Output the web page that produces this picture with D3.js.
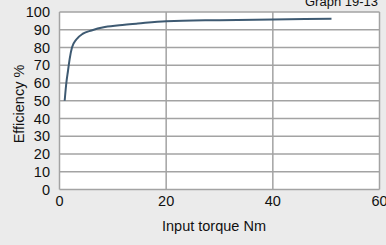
<!DOCTYPE html>
<html>
<head>
<meta charset="utf-8">
<script src="https://cdn.jsdelivr.net/npm/d3@7"></script>
<style>
body{margin:0;background:#ebebeb;}
text{font-family:"Liberation Sans",Arial,sans-serif;fill:#111;}
</style>
</head>
<body>
<svg width="386" height="245"></svg>
<script>
var torque=[0.97,1.28,1.6,1.9,2.34,3.15,4.4,6.0,8.5,12.2,14.7,20,30,40,51]
var efficiency=[50,60,67,73.5,80,84.5,87.8,89.6,91.5,92.8,93.5,94.8,95.4,95.8,96.2]
var xTicks=[0,20,40,60]
var yTicks=[0,10,20,30,40,50,60,70,80,90,100]

var svg=d3.select('svg')
var pLeft=59.5,pRight=379.5,pTop=12,pBottom=189.5

var x=d3.scaleLinear().domain([0,60]).range([pLeft,pRight])
var y=d3.scaleLinear().domain([0,100]).range([pBottom,pTop])

svg.append('rect')
    .attr('x',pLeft).attr('y',pTop)
    .attr('width',pRight-pLeft).attr('height',pBottom-pTop)
    .attr('fill','#fff')

// grid
svg.selectAll('.gy').data(yTicks).enter().append('line')
    .attr('x1',pLeft).attr('x2',pRight)
    .attr('y1',function(d){return y(d)}).attr('y2',function(d){return y(d)})
    .attr('stroke','#a3a3a3').attr('stroke-width',1.5)
svg.selectAll('.gx').data(xTicks).enter().append('line')
    .attr('y1',pTop).attr('y2',pBottom)
    .attr('x1',function(d){return x(d)}).attr('x2',function(d){return x(d)})
    .attr('stroke','#a3a3a3').attr('stroke-width',1.5)

// tick labels
svg.selectAll('.ty').data(yTicks).enter().append('text')
    .attr('x',50).attr('y',function(d){return y(d)})
    .attr('dy','0.36em').attr('text-anchor','end')
    .style('font-size','14.5px')
    .text(function(d){return d})
svg.selectAll('.tx').data(xTicks).enter().append('text')
    .attr('x',function(d){return x(d)}).attr('y',205.5)
    .attr('text-anchor','middle')
    .style('font-size','14.5px')
    .text(function(d){return d})

svg.append('text')
    .attr('transform','translate(24,104) rotate(-90)')
    .attr('text-anchor','middle')
    .style('font-size','14.5px')
    .text('Efficiency %')
svg.append('text')
    .attr('x',214).attr('y',231)
    .attr('text-anchor','middle')
    .style('font-size','14.5px')
    .text('Input torque Nm')
svg.append('text')
    .attr('x',378).attr('y',6)
    .attr('text-anchor','end')
    .style('font-size','13px')
    .text('Graph 19-13')

var line=d3.line()
    .x(function(d,i){return x(torque[i])})
    .y(function(d){return y(d)})
    .curve(d3.curveMonotoneX)
svg.append('path')
    .attr('d',line(efficiency))
    .attr('fill','none')
    .attr('stroke','#3e5a72')
    .attr('stroke-width',2)
</script>
</body>
</html>
